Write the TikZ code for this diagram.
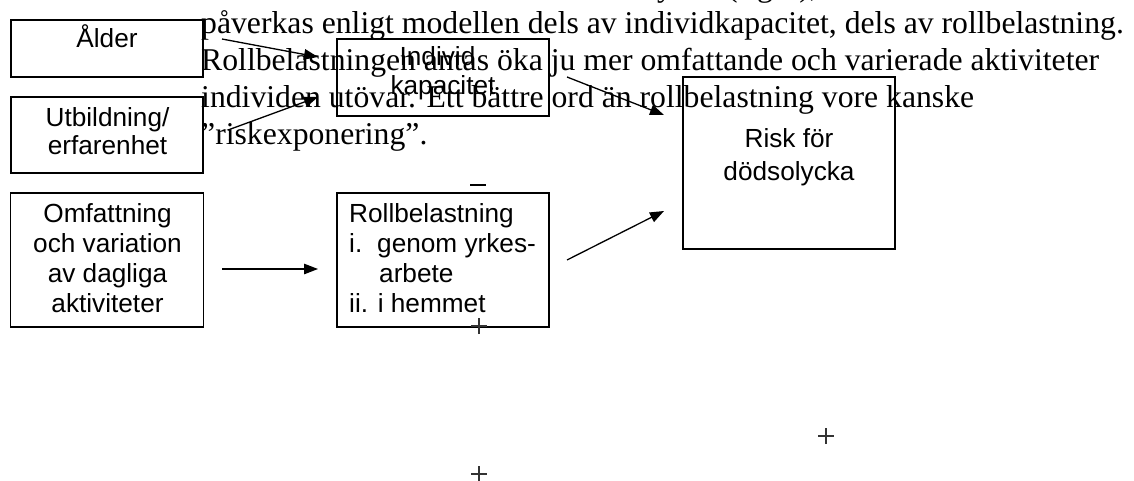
\documentclass[tikz,border=0pt]{standalone}
\usepackage{fontspec}
\setmainfont{Liberation Serif}
\newfontfamily\arialfont{Liberation Sans}
\usetikzlibrary{arrows.meta}
\begin{document}
\begin{tikzpicture}[x=1pt,y=-1pt,
  box/.style={draw,line width=1.5pt,inner sep=0pt},
  lbl/.style={inner sep=0pt,anchor=base,font=\arialfont\fontsize{26.2}{30}\selectfont},
  bodytext/.style={inner sep=0pt,anchor=base west,font=\fontsize{31.7}{37}\selectfont},
  conn/.style={line width=1.3pt,-{Triangle[length=14pt,width=10.5pt]}},
  straymark/.style={line width=1.2pt,draw=black!80}]
\useasboundingbox (0,0) rectangle (1134,481);

% partially visible line at the top edge
\begin{scope}
\clip (0,0) rectangle (1134,481);
\node[bodytext] (t0a) at (657,-3) {y};
\node[bodytext] (t0b) at (727,-3) {(figur),};
\end{scope}

% body text lines behind the diagram
\node[bodytext] (t1) at (201,34) {påverkas enligt modellen dels av individkapacitet, dels av rollbelastning.};
\node[bodytext] (t2) at (201,71) {Rollbelastningen antas öka ju mer omfattande och varierade aktiviteter};
\node[bodytext] (t3) at (201,108) {individen utövar. Ett bättre ord än rollbelastning vore kanske};
\node[bodytext] (t4) at (201,145) {”riskexponering”.};

% boxes
\node[box,minimum width=192pt,minimum height=57pt] (alder) at (107,48.5) {};
\node[box,minimum width=192pt,minimum height=76pt] (utb) at (107,135) {};
\node[box,minimum width=193pt,minimum height=134pt] (omf) at (107,260) {};
\node[box,minimum width=212pt,minimum height=134pt] (roll) at (443,260) {};
\node[box,minimum width=212pt,minimum height=77pt] (ind) at (443,77.5) {};
\node[box,minimum width=212pt,minimum height=172pt] (risk) at (789,163) {};

% box texts
\node[lbl] (alderT) at (107,48) {Ålder};
\node[lbl] (utbT1) at (107.5,127) {Utbildning/};
\node[lbl] (utbT2) at (107.5,155) {erfarenhet};
\node[lbl] (indT1) at (437.5,66) {Individ};
\node[lbl] (indT2) at (443,95) {kapacitet};
\node[lbl] (riskT1) at (789,148) {Risk för};
\node[lbl] (riskT2) at (789,180) {dödsolycka};
\node[lbl] (omfT1) at (107.5,222) {Omfattning};
\node[lbl] (omfT2) at (107.5,252) {och variation};
\node[lbl] (omfT3) at (107.5,282) {av dagliga};
\node[lbl] (omfT4) at (107.5,312) {aktiviteter};
\node[lbl,anchor=base west] (rollT1) at (349,222) {Rollbelastning};
\node[lbl,anchor=base west] (rollT2a) at (349,252) {i.};
\node[lbl,anchor=base west] (rollT2b) at (377,252) {genom yrkes-};
\node[lbl,anchor=base west] (rollT3) at (379,282) {arbete};
\node[lbl,anchor=base west] (rollT4) at (349,312) {ii. i hemmet};

% connector end points
\coordinate (a1s) at (222,39);  \coordinate (a1e) at (318,57);
\coordinate (a2s) at (228,130); \coordinate (a2e) at (318,97);
\coordinate (a3s) at (567,77);  \coordinate (a3e) at (664,115);
\coordinate (a4s) at (222,269); \coordinate (a4e) at (318,269);
\coordinate (a5s) at (567,260); \coordinate (a5e) at (664,211);
\draw[conn] (a1s) -- (a1e);
\draw[conn] (a2s) -- (a2e);
\draw[conn] (a3s) -- (a3e);
\draw[conn] (a4s) -- (a4e);
\draw[conn] (a5s) -- (a5e);

% stray marks
\coordinate (m1) at (478,185);
\draw[line width=1.5pt] ([xshift=-8pt]m1) -- ([xshift=8pt]m1);
\coordinate (m2) at (825.5,249);
\draw[line width=2.5pt] ([xshift=-7.5pt]m2) -- ([xshift=7.5pt]m2);
\foreach \n/\px/\py in {p1/479/326,p2/826/436,p3/479/474}{
  \coordinate (\n) at (\px,\py);
  \draw[straymark] ([xshift=-8pt]\n) -- ([xshift=8pt]\n);
  \draw[straymark] ([yshift=-8pt]\n) -- ([yshift=8pt]\n);
}
\end{tikzpicture}
\end{document}
